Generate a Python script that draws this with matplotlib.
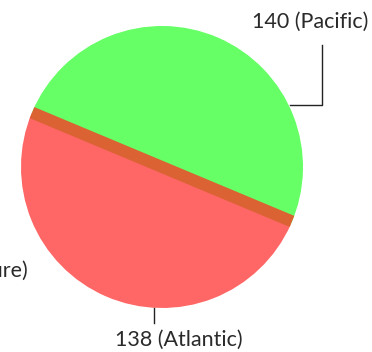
import numpy as np
import matplotlib.pyplot as plt
from matplotlib.patches import Rectangle, Circle
import matplotlib.transforms as mtransforms

# data
oceans = ["Pacific", "Atlantic", "Unsure"]
votes = [140, 138, 8]
colors = ["#66ff66", "#ff6666", "#db6232"]

W, H = 372, 352
fig = plt.figure(figsize=(W / 100, H / 100), dpi=100)
ax = fig.add_axes([0, 0, 1, 1])

cx, cy, r = 162, 185, 141

# two big slices
wedges, _ = ax.pie(votes[:2], colors=colors[:2], startangle=-24,
                   counterclock=True, center=(cx, cy), radius=r,
                   wedgeprops=dict(linewidth=0))

# the small slice, shown as a band along the split
ang = wedges[0].theta2
band_w = 12
band = Rectangle((cx - r - 5, cy - band_w / 2), 2 * r + 10, band_w,
                 facecolor=colors[2], linewidth=0)
band.set_transform(mtransforms.Affine2D().rotate_deg_around(cx, cy, ang) + ax.transData)
ax.add_patch(band)
clip = Circle((cx, cy), r, transform=ax.transData)
band.set_clip_path(clip)

ax.set_xlim(0, W)
ax.set_ylim(0, H)
ax.set_aspect("equal")
ax.axis("off")

txt = dict(fontsize=15.5, color="#2a2a2a", family="Lato")
lc = "#222222"

# labels
ax.plot([290, 322, 322], [247, 247, 307], color=lc, lw=1)
ax.text(310, 330, f"{votes[0]} ({oceans[0]})", ha="center", va="center", **txt)

ax.plot([154, 154], [44, 29], color=lc, lw=1)
ax.text(179, 12, f"{votes[1]} ({oceans[1]})", ha="center", va="center", **txt)

ax.text(28, 81, f"{votes[2]} ({oceans[2]})", ha="right", va="center", **txt)

fig.savefig("out.png", dpi=100)
